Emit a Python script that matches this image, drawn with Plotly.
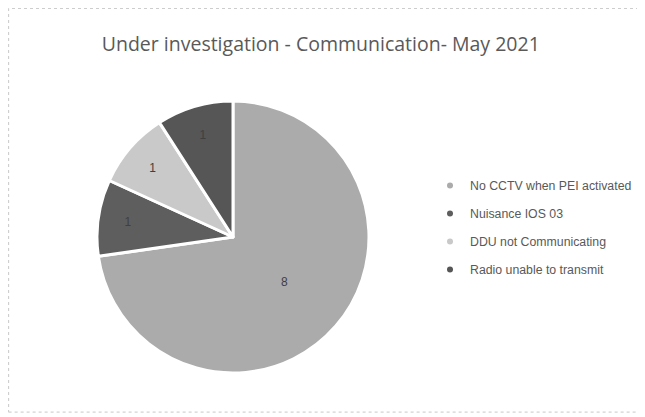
import plotly.graph_objects as go

labels = ["No CCTV when PEI activated", "Nuisance IOS 03", "DDU not Communicating", "Radio unable to transmit"]
values = [8, 1, 1, 1]
colors = ["#ababab", "#5e5e5e", "#c9c9c9", "#565656"]
title = "Under investigation - Communication- May 2021"

fig = go.Figure()
fig.add_trace(go.Pie(
    labels=labels, values=values, sort=False, direction="clockwise", rotation=0,
    marker=dict(colors=colors, line=dict(color="white", width=3)),
    textinfo="value", textposition="inside", insidetextorientation="horizontal",
    textfont=dict(family="Liberation Sans, Arial", size=12, color="#404040"),
    showlegend=False, hoverinfo="label+value",
    domain=dict(x=[0.1397, 0.5667], y=[0.1076, 0.7726]),
))
for lab, col in zip(labels, colors):
    fig.add_trace(go.Scatter(
        x=[None], y=[None], mode="markers", name=lab, legendgroup=lab,
        marker=dict(color=col, size=6, symbol="circle"), showlegend=True,
    ))

fig.update_layout(
    width=637, height=409,
    margin=dict(l=0, r=0, t=0, b=0),
    paper_bgcolor="white", plot_bgcolor="white",
    title=dict(text=title, x=0.491, xanchor="center", y=0.912, yanchor="middle",
               font=dict(family="Open Sans, Liberation Sans", size=19.5, color="#595959")),
    xaxis=dict(visible=False), yaxis=dict(visible=False),
    legend=dict(x=0.6625, y=0.6015, xanchor="left", yanchor="top",
                font=dict(family="Liberation Sans, Arial", size=12.3, color="#595959"),
                tracegroupgap=9, itemwidth=30, bgcolor="rgba(0,0,0,0)"),
    shapes=[dict(type="rect", xref="paper", yref="paper", x0=0.001, y0=0.012, x1=0.9937, y1=0.999,
                 line=dict(color="#c8c8c8", width=1, dash="dot"))],
)
fig.write_html("out.html")
